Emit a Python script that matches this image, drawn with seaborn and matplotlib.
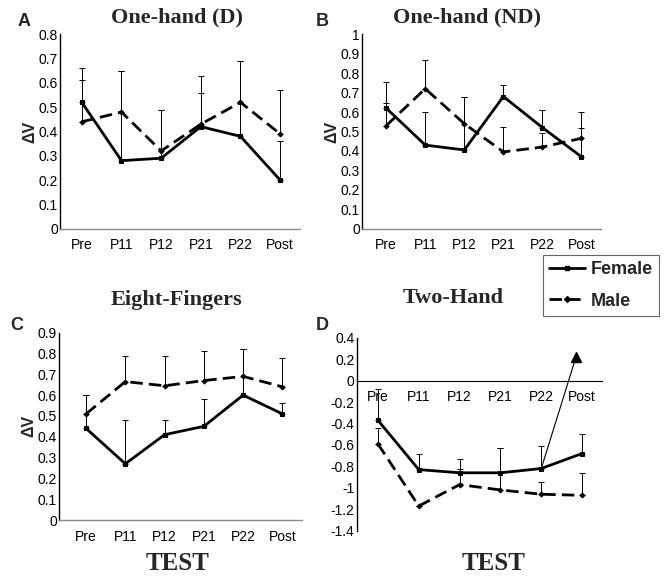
import numpy as np
import pandas as pd
import matplotlib
matplotlib.use("Agg")
import matplotlib.pyplot as plt
from matplotlib.ticker import MultipleLocator, FuncFormatter
from matplotlib.lines import Line2D
import seaborn as sns

sns.set_theme(style="white")
plt.rcParams["font.family"] = ["Liberation Sans", "DejaVu Sans"]
plt.rcParams["axes.unicode_minus"] = False

tests = ["Pre", "P11", "P12", "P21", "P22", "Post"]

# Panel A: One-hand (D)
A_female = [0.52, 0.28, 0.29, 0.42, 0.38, 0.20]
A_male = [0.44, 0.48, 0.32, 0.43, 0.52, 0.39]
A_female_upper = [0.66, 0.65, 0.49, 0.56, 0.69, 0.36]
A_male_upper = [0.61, 0.65, 0.49, 0.63, 0.69, 0.57]

# Panel B: One-hand (ND)
B_female = [0.62, 0.43, 0.405, 0.68, 0.52, 0.37]
B_male = [0.53, 0.72, 0.54, 0.395, 0.42, 0.465]
B_female_upper = [0.755, 0.60, 0.675, 0.74, 0.61, 0.52]
B_male_upper = [0.645, 0.87, 0.675, 0.525, 0.49, 0.60]

# Panel C: Eight-Fingers
C_female = [0.44, 0.27, 0.41, 0.45, 0.60, 0.51]
C_male = [0.51, 0.665, 0.645, 0.67, 0.69, 0.64]
C_female_upper = [0.60, 0.48, 0.48, 0.58, 0.82, 0.56]
C_male_upper = [0.60, 0.79, 0.79, 0.81, 0.82, 0.78]

# Panel D: Two-Hand
D_female = [-0.37, -0.83, -0.86, -0.86, -0.82, -0.68]
D_male = [-0.59, -1.17, -0.97, -1.02, -1.06, -1.07]
D_female_upper = [-0.08, -0.68, -0.73, -0.63, -0.61, -0.50]
D_male_upper = [-0.44, -1.17, -0.82, -0.63, -0.95, -0.86]
D_arrow_pos = [4.0, 4.85]
D_arrow_val = [-0.82, 0.22]

W, H = 665, 576
fig = plt.figure(figsize=(W / 100, H / 100), dpi=100)


def px_rect(x0, x1, ytop, ybot):
    return [x0 / W, 1 - ybot / H, (x1 - x0) / W, (ybot - ytop) / H]


def fmt(v, _):
    v = round(v, 1)
    if v == 0:
        return "0"
    return f"{v:g}"


def panel(rect, fem, mal, fem_up, mal_up, ylim, step, xlim, ylabel=True, zero_axis=False):
    ax = fig.add_axes(rect)
    pos = np.arange(len(tests))
    df = pd.DataFrame({
        "pos": np.concatenate([pos, pos]),
        "value": list(fem) + list(mal),
        "sex": ["Female"] * len(tests) + ["Male"] * len(tests),
    })
    sns.lineplot(data=df, x="pos", y="value", style="sex",
                 dashes={"Female": "", "Male": (4.5, 2.2)},
                 markers={"Female": "s", "Male": "D"}, markersize=2.5,
                 color="black", lw=2.0, legend=False, sort=False, ax=ax,
                 markeredgecolor="black")
    for vals, up in ((fem, fem_up), (mal, mal_up)):
        vals = np.asarray(vals, float)
        up = np.asarray(up, float)
        err = np.clip(up - vals, 0, None)
        ax.errorbar(pos, vals, yerr=[np.zeros_like(err), err], fmt="none",
                    ecolor="black", elinewidth=0.7, capsize=2.2, capthick=0.7)
    ax.set_xlim(*xlim)
    ax.set_ylim(*ylim)
    ax.set_xticks(pos)
    ax.set_xticklabels(tests)
    ax.yaxis.set_major_locator(MultipleLocator(step))
    ax.yaxis.set_major_formatter(FuncFormatter(fmt))
    ax.tick_params(axis="both", length=0, labelsize=10, colors="black")
    ax.tick_params(axis="x", pad=7)
    ax.tick_params(axis="y", pad=1.5)
    ax.set_xlabel("")
    if ylabel:
        ax.set_ylabel("\u0394V", fontsize=11.5, fontweight="bold", labelpad=1)
    else:
        ax.set_ylabel("")
    ax.spines["top"].set_visible(False)
    ax.spines["right"].set_visible(False)
    ax.spines["left"].set_color("black")
    ax.spines["left"].set_linewidth(1.0)
    if zero_axis:
        ax.spines["bottom"].set_position(("data", 0))
        ax.spines["bottom"].set_color("black")
        ax.spines["bottom"].set_linewidth(0.8)
    else:
        ax.spines["bottom"].set_color("#8a8a8a")
        ax.spines["bottom"].set_linewidth(1.0)
    ax.set_facecolor("white")
    ax.grid(False)
    return ax


axA = panel(px_rect(60, 300, 34.3, 228.7), A_female, A_male, A_female_upper, A_male_upper,
            (0, 0.8), 0.1, (-0.55, 5.5))
axB = panel(px_rect(362, 601, 34.3, 228.7), B_female, B_male, B_female_upper, B_male_upper,
            (0, 1.0), 0.1, (-0.62, 5.5))
axC = panel(px_rect(59, 302, 332.7, 520), C_female, C_male, C_female_upper, C_male_upper,
            (0, 0.9), 0.1, (-0.69, 5.5))
axD = panel(px_rect(356.7, 601.7, 337.7, 530.7), D_female, D_male, D_female_upper, D_male_upper,
            (-1.4, 0.4), 0.2, (-0.52, 5.48), ylabel=False, zero_axis=True)

axD.plot(D_arrow_pos, D_arrow_val, color="black", lw=0.8)
axD.plot(D_arrow_pos[-1:], D_arrow_val[-1:], marker="^", color="black", markersize=7, lw=0)


def ftext(x, y, s, **kw):
    fig.text(x / W, 1 - y / H, s, ha="center", va="center", **kw)


serif = ["Liberation Serif", "DejaVu Serif"]
ftext(177, 17, "One-hand (D)", fontsize=16, fontweight="bold", family=serif)
ftext(467, 17, "One-hand (ND)", fontsize=16, fontweight="bold", family=serif)
ftext(176, 300, "Eight-Fingers", fontsize=16, fontweight="bold", family=serif)
ftext(453, 298, "Two-Hand", fontsize=16, fontweight="bold", family=serif)
ftext(178, 564, "TEST", fontsize=18, fontweight="bold", family=serif)
ftext(494, 564, "TEST", fontsize=18, fontweight="bold", family=serif)

ftext(24, 22, "A", fontsize=13, fontweight="bold")
ftext(322, 22, "B", fontsize=13, fontweight="bold")
ftext(17, 326, "C", fontsize=13, fontweight="bold")
ftext(322, 326, "D", fontsize=13, fontweight="bold")

handles = [
    Line2D([], [], color="black", lw=2, marker="s", markersize=3.5),
    Line2D([], [], color="black", lw=2, dashes=(4.5, 2.2), marker="D", markersize=3),
]
leg = fig.legend(handles, ["Female", "Male"], loc="upper left",
                 bbox_to_anchor=(543 / W, 1 - 255 / H), borderaxespad=0,
                 prop={"size": 13, "weight": "bold"}, handlelength=2.0,
                 handletextpad=0.3, borderpad=0.35, labelspacing=0.8,
                 frameon=True, fancybox=False, edgecolor="#666666", framealpha=1)
leg.get_frame().set_linewidth(0.8)

fig.savefig("out.png", dpi=100, facecolor="white")
